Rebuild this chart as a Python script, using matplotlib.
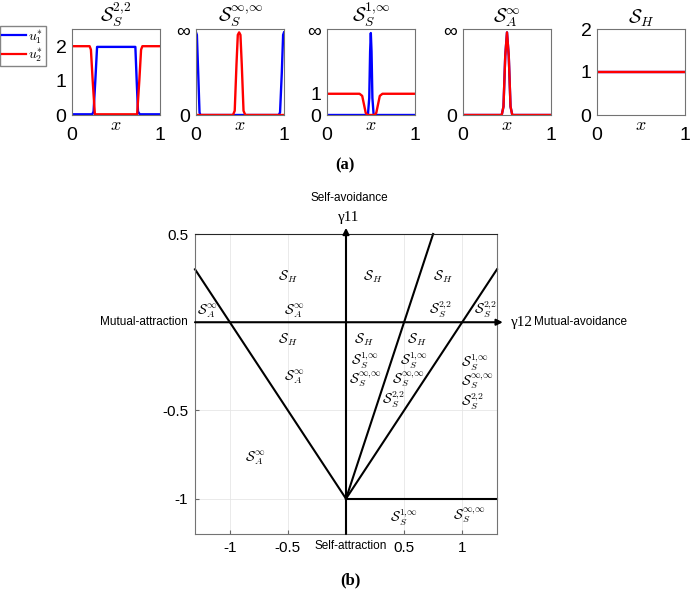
import numpy as np
import matplotlib.pyplot as plt
from matplotlib.lines import Line2D

plt.rcParams['font.family'] = ['Liberation Sans', 'DejaVu Sans']
plt.rcParams['mathtext.fontset'] = 'cm'

# ---- top row: steady-state profiles ----
titles = [r'$\mathcal{S}_S^{2{,}2}$', r'$\mathcal{S}_S^{\infty{,}\infty}$',
          r'$\mathcal{S}_S^{1{,}\infty}$', r'$\mathcal{S}_A^{\infty}$', r'$\mathcal{S}_H$']

u1_x = [
    [0, 0.23, 0.245, 0.265, 0.285, 0.72, 0.735, 0.75, 0.77, 1],
    [0, 0.01, 0.025, 0.04, 0.05, 0.94, 0.955, 0.975, 0.99, 1],
    [0, 0.465, 0.48, 0.49, 0.498, 0.506, 0.516, 0.53, 1],
    [0, 0.44, 0.46, 0.48, 0.5, 0.52, 0.54, 0.56, 1],
    [0, 1],
]
u1_y = [
    [0.02, 0.02, 0.1, 1.0, 1.98, 1.98, 1.0, 0.1, 0.02, 0.02],
    [0.98, 0.95, 0.5, 0.03, 0, 0, 0.03, 0.5, 0.95, 0.98],
    [0, 0, 0.8, 3.0, 3.86, 3.0, 0.8, 0, 0],
    [0, 0, 0.1, 0.7, 0.98, 0.7, 0.1, 0, 0],
    [1, 1],
]
u2_x = [
    [0, 0.2, 0.215, 0.235, 0.26, 0.74, 0.765, 0.785, 0.8, 1],
    [0, 0.42, 0.44, 0.46, 0.475, 0.49, 0.505, 0.52, 0.54, 0.56, 1],
    [0, 0.37, 0.40, 0.42, 0.44, 0.46, 0.54, 0.56, 0.58, 0.60, 0.63, 1],
    [0, 0.44, 0.46, 0.48, 0.5, 0.52, 0.54, 0.56, 1],
    [0, 1],
]
u2_y = [
    [2, 2, 1.9, 1.0, 0.02, 0.02, 1.0, 1.9, 2, 2],
    [0, 0, 0.05, 0.6, 0.95, 0.98, 0.95, 0.6, 0.05, 0, 0],
    [1, 1, 0.9, 0.5, 0.1, 0, 0, 0.1, 0.5, 0.9, 1, 1],
    [0, 0, 0.1, 0.7, 0.98, 0.7, 0.1, 0, 0],
    [1, 1],
]
ylims = [(0, 2.5), (0, 1.02), (0, 4.05), (0, 1.02), (0, 2)]
yticks = [[0, 1, 2], [0, 1], [0, 1, 4], [0, 1], [0, 1, 2]]
yticklabels = [['0', '1', '2'], ['0', '∞'], ['0', '1', '∞'], ['0', '∞'], ['0', '1', '2']]

# ---- bottom: phase diagram ----
bound_x = [[-1.3, 0], [0, 0.75], [0, 1.3], [0, 1.3]]
bound_y = [[0.3, -1], [-1, 0.5], [-1, 0.3], [-1, -1]]

SH = r'$\mathcal{S}_H$'
SA = r'$\mathcal{S}_A^{\infty}$'
S22 = r'$\mathcal{S}_S^{2{,}2}$'
S1i = r'$\mathcal{S}_S^{1{,}\infty}$'
Sii = r'$\mathcal{S}_S^{\infty{,}\infty}$'

reg_x = [-0.5, 0.23, 0.83, -1.2, -0.45, 0.81, 1.2,
         -0.5, 0.15, 0.16, 0.17, 0.61, 0.58, 0.54, 0.41,
         -0.45, 1.11, 1.13, 1.09, -0.78, 0.5, 1.06]
reg_y = [0.26, 0.26, 0.26, 0.06, 0.06, 0.07, 0.07,
         -0.1, -0.1, -0.22, -0.33, -0.1, -0.22, -0.33, -0.44,
         -0.31, -0.23, -0.34, -0.45, -0.77, -1.11, -1.1]
reg_lab = [SH, SH, SH, SA, SA, S22, S22,
           SH, SH, S1i, Sii, SH, S1i, Sii, S22,
           SA, S1i, Sii, S22, SA, S1i, Sii]

W, H = 690, 591
fig = plt.figure(figsize=(W / 100, H / 100), dpi=100)

lefts = [72, 196, 327, 463, 597]
for i in range(5):
    ax = fig.add_axes([lefts[i] / W, 1 - 115 / H, 88 / W, 86 / H])
    ax.plot(u1_x[i], u1_y[i], color='#0000ff', lw=1.7)
    ax.plot(u2_x[i], u2_y[i], color='#ff0000', lw=1.7)
    ax.set_xlim(0, 1)
    ax.set_ylim(*ylims[i])
    ax.set_xticks([0, 1])
    ax.set_yticks(yticks[i])
    ax.set_yticklabels(yticklabels[i])
    ax.tick_params(labelsize=14, length=0)
    ax.tick_params(axis='x', pad=9)
    ax.tick_params(axis='y', pad=4)
    ax.set_xlabel('$x$', fontsize=13, labelpad=-20)
    ax.set_title(titles[i], fontsize=14, pad=3)
    for s in ax.spines.values():
        s.set_color('0.45')
        s.set_linewidth(0.8)

handles = [Line2D([], [], color='#0000ff', lw=1.6), Line2D([], [], color='#ff0000', lw=1.6)]
fig.legend(handles, [r'$u_1^{*}$', r'$u_2^{*}$'], loc='upper left',
           bbox_to_anchor=(0.0, 1 - 26 / H), fontsize=10, frameon=True, fancybox=False,
           edgecolor='0.4', handlelength=1.7, handletextpad=0.2, borderpad=0.15,
           labelspacing=0.05, borderaxespad=0)

fig.text(345 / W, 1 - 165 / H, '(a)', fontsize=12, fontweight='bold',
         family='Liberation Serif', ha='center', va='center')
fig.text(350 / W, 1 - 580 / H, '(b)', fontsize=12, fontweight='bold',
         family='Liberation Serif', ha='center', va='center')

ax = fig.add_axes([195 / W, 1 - 534 / H, 302 / W, 300 / H])
ax.set_xlim(-1.3, 1.3)
ax.set_ylim(-1.2, 0.5)
ax.set_xticks([-1, -0.5, 0, 0.5, 1])
ax.set_xticklabels(['-1', '-0.5', '', '0.5', '1'])
ax.set_yticks([-1, -0.5, 0, 0.5])
ax.set_yticklabels(['-1', '-0.5', '', '0.5'])
ax.grid(True, color='0.9', lw=0.6)
ax.tick_params(direction='in', length=3, labelsize=11, color='0.4', pad=5)
for s in ax.spines.values():
    s.set_color('0.45')
    s.set_linewidth(0.8)
ax.spines['top'].set_color('0.15')

for bx, by in zip(bound_x, bound_y):
    ax.plot(bx, by, color='k', lw=1.5, clip_on=False)

ax.annotate('', xy=(0, 0.535), xytext=(0, -1.2),
            arrowprops=dict(arrowstyle='-|>', color='k', lw=1.5, mutation_scale=9,
                            shrinkA=0, shrinkB=0), annotation_clip=False)
ax.annotate('', xy=(1.35, 0), xytext=(-1.3, 0),
            arrowprops=dict(arrowstyle='-|>', color='k', lw=1.5, mutation_scale=9,
                            shrinkA=0, shrinkB=0), annotation_clip=False)

for rx, ry, rl in zip(reg_x, reg_y, reg_lab):
    ax.text(rx, ry, rl, fontsize=10, ha='center', va='center')

ax.text(-1.36, 0, 'Mutual-attraction', fontsize=8.5, ha='right', va='center')
ax.text(1.42, 0, 'γ12', fontsize=11, family='Liberation Serif', ha='left', va='center')
ax.text(1.62, 0, 'Mutual-avoidance', fontsize=8.5, ha='left', va='center')
ax.text(0.02, 0.595, 'γ11', fontsize=11, family='Liberation Serif', ha='center', va='center')
ax.text(0.03, 0.705, 'Self-avoidance', fontsize=8.5, ha='center', va='center')
ax.text(0.04, -1.27, 'Self-attraction', fontsize=8.5, ha='center', va='center')

fig.savefig('out.png', dpi=100)
